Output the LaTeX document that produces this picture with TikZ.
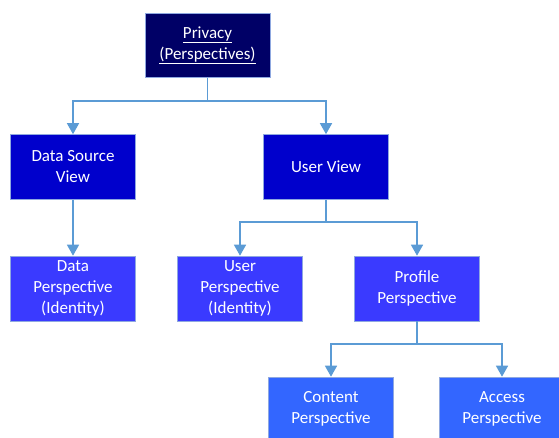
\documentclass[tikz,border=0pt]{standalone}
\usepackage{fontspec}
\setmainfont{Carlito}
\usetikzlibrary{arrows.meta}
\definecolor{navybox}{HTML}{000066}
\definecolor{viewbox}{HTML}{0000CC}
\definecolor{perspbox}{HTML}{3A3AFF}
\definecolor{leafbox}{HTML}{3366FF}
\definecolor{edgeline}{HTML}{8FA8E0}
\definecolor{link}{HTML}{5B9BD5}
\tikzset{
  box/.style={draw=edgeline, line width=0.6pt, text=white, align=center,
    font=\fontsize{17}{21}\selectfont, inner sep=0pt},
  link/.style={draw=link, line width=1.5pt},
  tolink/.style={link, -{Triangle[length=11pt, width=12pt]}},
}
\begin{document}
\begin{tikzpicture}[x=1pt, y=-1pt]
\useasboundingbox (0,0) rectangle (559,438);
\begin{scope}
\clip (0,0) rectangle (559,438);
% boxes, given by centres in pixel-like units
\node[box, fill=navybox, minimum width=125pt, minimum height=64pt] (privacy) at (207.5,45.5)
  {\underline{Privacy}\\\underline{(Perspectives)}};
\node[box, fill=viewbox, minimum width=125pt, minimum height=65pt] (dsv) at (73,167) {Data Source\\View};
\node[box, fill=viewbox, minimum width=125pt, minimum height=65pt] (uv) at (326,167) {User View};
\node[box, fill=perspbox, minimum width=125pt, minimum height=65pt] (dp) at (73,288.5) {Data\\Perspective\\(Identity)};
\node[box, fill=perspbox, minimum width=125pt, minimum height=65pt] (up) at (240,288.5) {User\\Perspective\\(Identity)};
\node[box, fill=perspbox, minimum width=125pt, minimum height=65pt] (pp) at (417,288.5) {Profile\\Perspective};
\node[box, fill=leafbox, minimum width=125pt, minimum height=64pt] (cp) at (331,409) {Content\\Perspective};
\node[box, fill=leafbox, minimum width=125pt, minimum height=64pt] (ap) at (502,409) {Access\\Perspective};
% connectors
\coordinate (j1) at (207.5,101);
\coordinate (j2) at (326,222);
\coordinate (j3) at (417,344);
\draw[link] (privacy.south) -- (j1);
\draw[tolink] (j1) -| (dsv.north);
\draw[tolink] (j1) -| (uv.north);
\draw[tolink] (dsv.south) -- (dp.north);
\draw[link] (uv.south) -- (j2);
\draw[tolink] (j2) -| (up.north);
\draw[tolink] (j2) -| (pp.north);
\draw[link] (pp.south) -- (j3);
\draw[tolink] (j3) -| (cp.north);
\draw[tolink] (j3) -| (ap.north);
\end{scope}
\end{tikzpicture}
\end{document}
